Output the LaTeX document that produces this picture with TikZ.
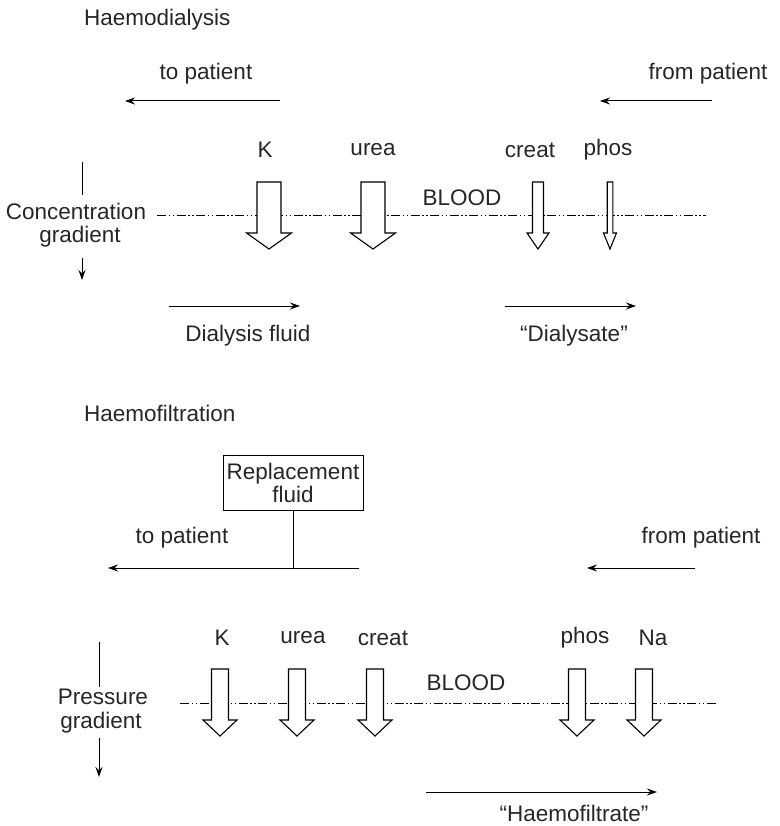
\documentclass[tikz,border=0pt]{standalone}
\usepackage{fontspec}
\setmainfont{Liberation Sans}
\usetikzlibrary{arrows.meta}
\begin{document}
\begin{tikzpicture}[x=1pt,y=-1pt,
  txt/.style={inner sep=0pt, font=\fontsize{22.5}{25}\selectfont, text=black!85},
  flow/.style={line width=1pt, -{Stealth[length=10pt,width=7pt]}},
  plain/.style={line width=1pt},
  mid/.style={line width=0.9pt, dash pattern=on 9pt off 2.5pt on 1.5pt off 2.5pt on 1.5pt off 2.5pt},
  blk/.style={line width=1.1pt, fill=white, line join=miter},
  boxed/.style={draw, line width=1pt, inner sep=2pt, align=center, text=black!85, font=\fontsize{22.5}{23}\selectfont}]
\useasboundingbox (0,0) rectangle (779,826);
% ---------- Haemodialysis ----------
\node[txt, anchor=west] (t1) at (84,20) {Haemodialysis};
\node[txt] (tp1) at (206,74) {to patient};
\node[txt] (fp1) at (708,74) {from patient};
\coordinate (tp1s) at (280,101); \coordinate (tp1e) at (125,101);
\coordinate (fp1s) at (712,101); \coordinate (fp1e) at (600,101);
\draw[flow] (tp1s) -- (tp1e);
\draw[flow] (fp1s) -- (fp1e);
\coordinate (b1s) at (157,215); \coordinate (b1e) at (706,215);
\draw[mid] (b1s) -- (b1e);
\node[txt] (blood1) at (462,198) {BLOOD};
% labels
\node[txt] (k1) at (265,150) {K};
\node[txt] (u1) at (373,150) {urea};
\node[txt] (c1) at (530,150) {creat};
\node[txt] (p1) at (608,150) {phos};
% block arrows: center, half shaft, half head
\foreach \cx/\s/\h in {269/12/22.5, 373/12/22.5, 538/5.5/11, 610/2.8/6.5}{
  \draw[blk] (\cx-\s,182) -- (\cx+\s,182) -- (\cx+\s,233) -- (\cx+\h,233) -- (\cx,249)
     -- (\cx-\h,233) -- (\cx-\s,233) -- cycle;
}
% concentration gradient
\node[txt] (cg1) at (76,211) {Concentration};
\node[txt] (cg2) at (80,237) {gradient};
\coordinate (cga) at (82,162); \coordinate (cgb) at (82,195);
\coordinate (cgc) at (82,258); \coordinate (cgd) at (82,280);
\draw[plain] (cga) -- (cgb);
\draw[flow] (cgc) -- (cgd);
% dialysis fluid
\coordinate (df1) at (169,306); \coordinate (df2) at (300,306);
\draw[flow] (df1) -- (df2);
\node[txt] (dfl) at (248,336) {Dialysis fluid};
\coordinate (ds1) at (505,306); \coordinate (ds2) at (636,306);
\draw[flow] (ds1) -- (ds2);
\node[txt] (dsl) at (574,336) {“Dialysate”};
% ---------- Haemofiltration ----------
\node[txt, anchor=west] (t2) at (84,413) {Haemofiltration};
\node[boxed, minimum width=140pt, minimum height=55pt] (rf) at (293,482.5) {Replacement\\fluid};
\node[txt] (tp2) at (182,538) {to patient};
\node[txt] (fp2) at (701,538) {from patient};
\coordinate (tp2s) at (359,568); \coordinate (tp2e) at (108,568);
\coordinate (j2) at (293,568);
\draw[flow] (tp2s) -- (tp2e);
\draw[plain] (rf.south) -- (j2);
\coordinate (fp2s) at (695,568); \coordinate (fp2e) at (587,568);
\draw[flow] (fp2s) -- (fp2e);
\coordinate (b2s) at (180,703); \coordinate (b2e) at (717,703);
\draw[mid] (b2s) -- (b2e);
\node[txt] (blood2) at (466,683) {BLOOD};
\node[txt] (k2) at (222,638) {K};
\node[txt] (u2) at (303,638) {urea};
\node[txt] (c2) at (383,638) {creat};
\node[txt] (p2) at (585,638) {phos};
\node[txt] (n2) at (653,638) {Na};
\foreach \cx in {220,297,375,577,644}{
  \draw[blk] (\cx-8.5,669) -- (\cx+8.5,669) -- (\cx+8.5,720) -- (\cx+17,720) -- (\cx,736)
     -- (\cx-17,720) -- (\cx-8.5,720) -- cycle;
}
% pressure gradient
\node[txt] (pg1) at (103,697) {Pressure};
\node[txt] (pg2) at (101,723) {gradient};
\coordinate (pga) at (99,642); \coordinate (pgb) at (99,687);
\coordinate (pgc) at (99,738); \coordinate (pgd) at (99,777);
\draw[plain] (pga) -- (pgb);
\draw[flow] (pgc) -- (pgd);
% haemofiltrate
\coordinate (hf1) at (426,792); \coordinate (hf2) at (657,792);
\draw[flow] (hf1) -- (hf2);
\node[txt] (hfl) at (574,813) {“Haemofiltrate”};
\end{tikzpicture}
\end{document}
